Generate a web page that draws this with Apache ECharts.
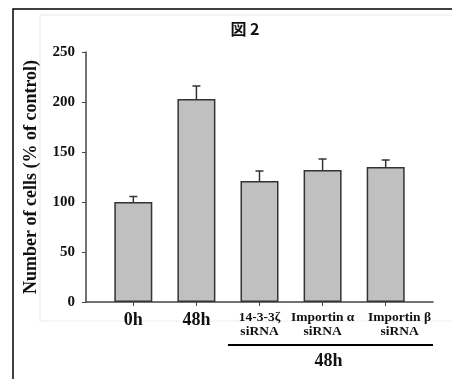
<!DOCTYPE html>
<html>
<head>
<meta charset="utf-8">
<script src="https://cdn.jsdelivr.net/npm/echarts@6/dist/echarts.min.js"></script>
<style>
html,body{margin:0;padding:0;background:#fff;}
#chart{width:452px;height:379px;}
</style>
</head>
<body>
<div id="chart"></div>
<script>
// 分类和数据
var categories = ['0h', '48h', '14-3-3ζ\nsiRNA', 'Importin α\nsiRNA', 'Importin β\nsiRNA'];
var cellValues = [100, 203, 121, 132, 135];
var errValues = [5.5, 13, 10, 11, 7];
var yTicks = [0, 50, 100, 150, 200, 250];
var groupLabel = '48h';

var serif = '"Liberation Serif", "DejaVu Serif", serif';

var barData = [];
var errData = [];
for (var i = 0; i < categories.length; i++) {
	barData.push([i, cellValues[i]]);
	errData.push([i, cellValues[i], errValues[i]]);
}
var idx = categories.map(function (c, i) { return i; });
// 最后一个标签原图稍微偏右
var labelPos = idx.map(function (i) { return i == 4 ? 4.22 : i; });

var chart = echarts.init(document.getElementById('chart'));
var option = {
	backgroundColor: '#fff',
	animation: false,
	title: {
		text: '図 2', left: 240, textAlign: 'center', top: 16,
		textStyle: {fontFamily: '"Noto Sans CJK JP"', fontSize: 16, fontWeight: 'bold', color: '#111'}
	},
	grid: {left: 86, top: 52, right: 19, bottom: 77},
	xAxis: {
		type: 'value', min: -0.75, max: 4.75,
		splitLine: {show: false},
		axisLine: {show: true, onZero: false, lineStyle: {color: '#444', width: 1.5}},
		axisTick: {show: true, customValues: idx, length: 4, lineStyle: {color: '#444'}},
		axisLabel: {
			customValues: labelPos, margin: 9, hideOverlap: false,
			formatter: function (v) {
				var i = Math.round(v);
				var lines = categories[i].split('\n');
				var st = i < 2 ? 'big' : 'small';
				return lines.map(function (l) { return '{' + st + '|' + l + '}'; }).join('\n');
			},
			rich: {
				big: {fontFamily: serif, fontWeight: 'bold', fontSize: 18, color: '#111', lineHeight: 18},
				small: {fontFamily: serif, fontWeight: 'bold', fontSize: 13.5, color: '#111', lineHeight: 14}
			}
		}
	},
	yAxis: {
		type: 'value', min: 0, max: 250, interval: 50,
		name: 'Number of cells (% of control)',
		nameLocation: 'middle', nameGap: 46,
		nameTextStyle: {fontFamily: serif, fontWeight: 'bold', fontSize: 18, color: '#111'},
		splitLine: {show: false},
		axisLine: {show: true, onZero: false, lineStyle: {color: '#444', width: 1.5}},
		axisTick: {show: true, length: 4, lineStyle: {color: '#444'}},
		axisLabel: {
			margin: 11, fontFamily: serif, fontWeight: 'bold', fontSize: 15, color: '#111',
			customValues: yTicks
		}
	},
	series: [
		{
			type: 'bar', data: barData, barWidth: 38,
			itemStyle: {color: '#c0c0c0', borderColor: '#333', borderWidth: 1.5}
		},
		{
			type: 'custom', data: errData, z: 3,
			renderItem: function (params, api) {
				var x = api.value(0), y = api.value(1), e = api.value(2);
				var base = api.coord([x, y]);
				var top = api.coord([x, y + e]);
				var st = {stroke: '#333', lineWidth: 1.5};
				return {
					type: 'group', children: [
						{type: 'line', shape: {x1: base[0], y1: base[1], x2: top[0], y2: top[1]}, style: st},
						{type: 'line', shape: {x1: top[0] - 4, y1: top[1], x2: top[0] + 4, y2: top[1]}, style: st}
					]
				};
			}
		}
	]
};
chart.setOption(option);

// 外框和 48h 分组标注
var x1 = chart.convertToPixel({xAxisIndex: 0}, 1.5);
var x2 = chart.convertToPixel({xAxisIndex: 0}, 4.75);
chart.setOption({
	graphic: [
		{type: 'polyline', silent: true, shape: {points: [[40, 321], [40, 15], [452, 15]]}, style: {stroke: '#e6e6e6', lineWidth: 1, fill: null}},
		{type: 'line', silent: true, shape: {x1: 40, y1: 321, x2: 452, y2: 321}, style: {stroke: '#eeeeee', lineWidth: 1}},
		{type: 'polyline', silent: true, shape: {points: [[13, 379], [13, 9], [452, 9]]}, style: {stroke: '#000', lineWidth: 1.5, fill: null}},
		{type: 'line', silent: true, shape: {x1: x1, y1: 345, x2: x2, y2: 345}, style: {stroke: '#000', lineWidth: 2}},
		{type: 'text', silent: true, x: (x1 + x2) / 2 - 2, y: 361,
			style: {text: groupLabel, align: 'center', verticalAlign: 'middle', font: 'bold 18px ' + serif, fill: '#111'}}
	]
});
</script>
</body>
</html>
